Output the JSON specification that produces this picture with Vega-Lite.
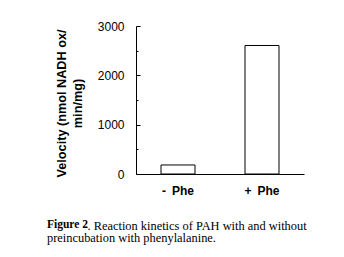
{
  "$schema": "https://vega.github.io/schema/vega-lite/v6.json",
  "width": 168,
  "height": 148,
  "autosize": {"type": "none"},
  "padding": {"left": 136, "top": 26, "right": 40, "bottom": 83},
  "background": "white",
  "config": {"view": {"stroke": null}},
  "title": {
    "text": "Figure 2",
    "subtitle": "preincubation with phenylalanine.",
    "orient": "bottom",
    "anchor": "start",
    "frame": "group",
    "font": "Liberation Serif",
    "fontWeight": "bold",
    "fontSize": 11.5,
    "color": "black",
    "subtitleFont": "Liberation Serif",
    "subtitleFontWeight": "normal",
    "subtitleFontSize": 12.4,
    "subtitleColor": "black",
    "subtitlePadding": 2,
    "dx": -89,
    "dy": -12.5,
    "offset": 0
  },
  "data": {
    "values": [
      {"condition": "-\u2002Phe", "velocity": 183},
      {"condition": "+\u2002Phe", "velocity": 2605}
    ]
  },
  "mark": {"type": "bar", "fill": "white", "stroke": "black", "strokeWidth": 1, "size": 34},
  "encoding": {
    "x": {
      "field": "condition",
      "type": "nominal",
      "sort": null,
      "scale": {"paddingInner": 0, "paddingOuter": 0},
      "axis": {
        "title": ". Reaction kinetics of PAH with and without",
        "titleFont": "Liberation Serif",
        "titleFontWeight": "normal",
        "titleFontSize": 12.4,
        "titleColor": "black",
        "titleX": -49,
        "titleY": 55,
        "titleAlign": "left",
        "titleBaseline": "alphabetic",
        "titleAngle": 0,
        "labelAngle": 0,
        "labelFont": "Liberation Sans",
        "labelFontWeight": "bold",
        "labelFontSize": 12,
        "labelColor": "black",
        "labelPadding": 11,
        "ticks": false,
        "domainColor": "black",
        "domainWidth": 1
      }
    },
    "y": {
      "field": "velocity",
      "type": "quantitative",
      "scale": {"domain": [0, 3000], "nice": false},
      "axis": {
        "title": ["Velocity (nmol NADH ox/", "min/mg)"],
        "titleFont": "Liberation Sans",
        "titleFontWeight": "bold",
        "titleFontSize": 12.7,
        "titleLineHeight": 15.5,
        "titleColor": "black",
        "titlePadding": 13,
        "titleY": 77,
        "values": [0, 500, 1000, 1500, 2000, 2500, 3000],
        "labelExpr": "datum.value % 1000 === 0 ? datum.label : ''",
        "format": "d",
        "labelFont": "Liberation Sans",
        "labelFontSize": 12,
        "labelColor": "black",
        "labelPadding": 16,
        "tickSize": {"condition": {"test": "datum.value % 1000 === 0", "value": -4}, "value": -2},
        "tickColor": "black",
        "domainColor": "black",
        "grid": false
      }
    }
  }
}
